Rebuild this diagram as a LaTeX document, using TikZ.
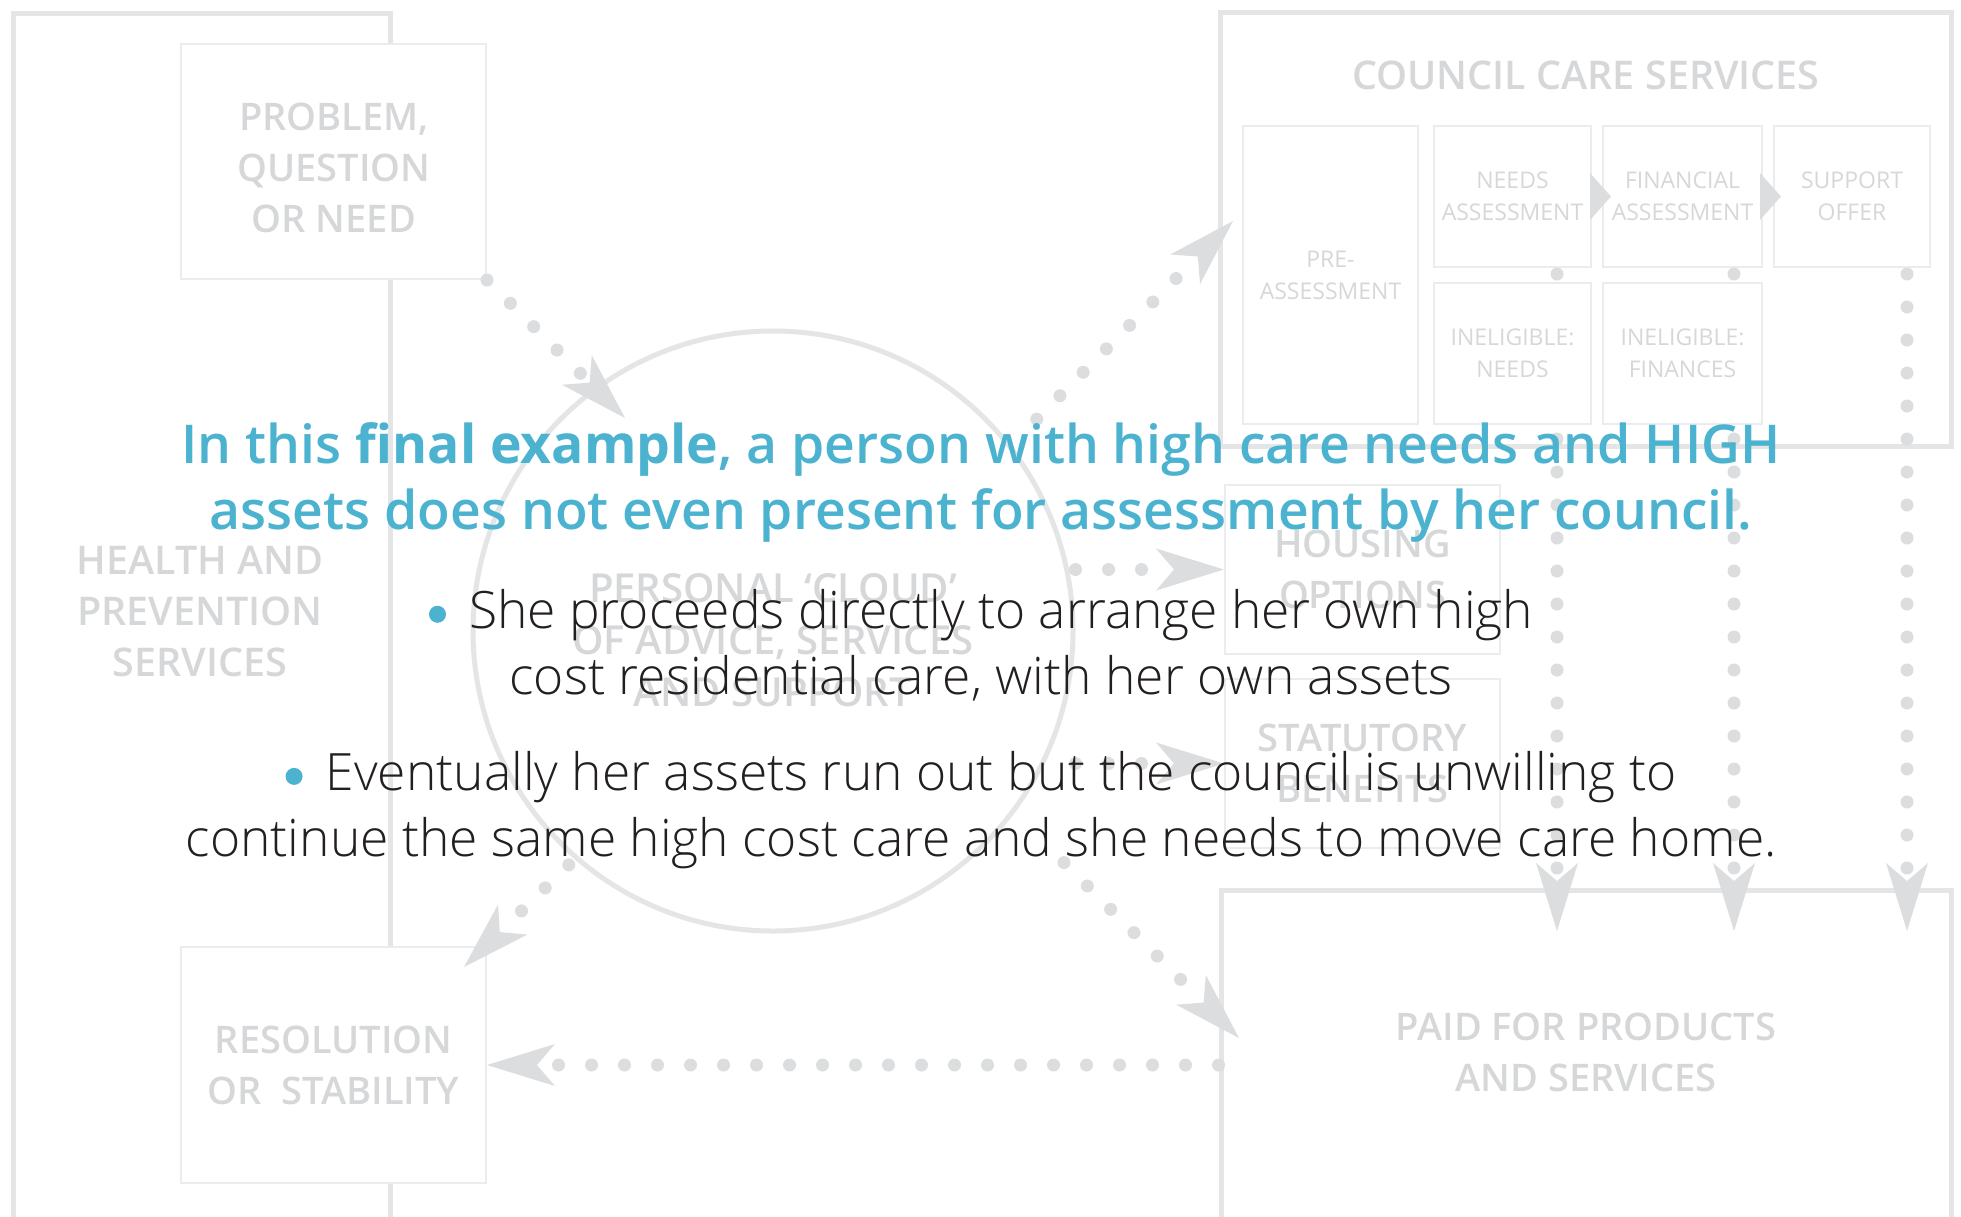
\documentclass[tikz,border=0pt]{standalone}
\usepackage{fontspec}
\usepackage{tikz}
\usetikzlibrary{arrows.meta}
\setmainfont{Open Sans}
\newfontfamily\lightfont{Open Sans Light}
\newfontfamily\semifont{Open Sans Semibold}[BoldFont={Open Sans Bold}]
\definecolor{frameGrey}{RGB}{228,229,230}
\definecolor{boxGrey}{RGB}{235,236,237}
\definecolor{labelGrey}{RGB}{214,215,217}
\definecolor{dotGrey}{RGB}{220,221,223}
\definecolor{titleBlue}{RGB}{75,178,207}
\definecolor{bodyInk}{RGB}{35,31,32}
\newcommand{\bulletdot}{\tikz[baseline=-14pt]\fill[titleBlue] (0,0) circle[radius=8.5pt];\hspace{0.45em}}

\begin{document}
\begin{tikzpicture}[x=1pt, y=-1pt,
    outline/.style={draw=frameGrey, line width=5pt},
    ghostbox/.style={draw=boxGrey, line width=2pt, fill=white, inner sep=0pt, align=center},
    biglabel/.style={text=labelGrey, align=center, font=\semifont\fontsize{38}{51}\selectfont},
    smalllabel/.style={text=labelGrey, font=\fontsize{23}{32}\selectfont},
    dotline/.style={draw=dotGrey, line width=13pt, line cap=round, dash pattern=on 0pt off 33pt},
    bigtip/.style={-{Stealth[length=68pt, width=42pt, inset=18pt, line width=0pt]}},
    steptip/.style={draw=dotGrey, line width=0pt, -{Triangle[length=21pt, width=47pt, line width=0pt]}},
    headline/.style={text=titleBlue, align=center, font=\semifont\fontsize{53.5}{66}\selectfont},
    bodytext/.style={text=bodyInk, align=center, font=\lightfont\fontsize{51.5}{66}\selectfont}]
    \fill[white] (0,0) rectangle (1961,1216);
    \useasboundingbox (0,0) rectangle (1961,1216);

    % LHS frame
    \draw[outline] (13,13) rectangle (390,1235);
    \node[biglabel, font=\semifont\fontsize{39.5}{51}\selectfont] (health) at (200,612) {HEALTH AND\\PREVENTION\\SERVICES};
    \node[ghostbox, minimum width=305pt, minimum height=235pt] (prob) at (333.5,161.5) {};
    \node[biglabel] (prob-label) at (334,168) {PROBLEM,\\QUESTION\\OR NEED};
    \node[ghostbox, biglabel, minimum width=305pt, minimum height=236pt] (resol) at (333.5,1065) {RESOLUTION\\OR\ \ STABILITY};

    % Cloud
    \node[circle, draw=frameGrey, line width=5pt, minimum size=600pt, inner sep=0pt] (cloud) at (773,631) {};
    \node[biglabel, font=\semifont\fontsize{40}{52}\selectfont] (cloud-label) at (773,640) {PERSONAL ‘CLOUD’\\OF ADVICE, SERVICES\\AND SUPPORT};

    % Council care services
    \node[outline, minimum width=731pt, minimum height=434pt, inner sep=0pt] (council) at (1585.5,229) {};
    \node[biglabel, font=\semifont\fontsize{39.5}{51}\selectfont] (council-title) at (1586,75) {COUNCIL CARE SERVICES};
    \node[ghostbox, smalllabel, minimum width=175pt, minimum height=298pt] (preassess) at (1330.5,275) {PRE-\\ASSESSMENT};
    \node[ghostbox, smalllabel, minimum width=157pt, minimum height=141pt] (needs) at (1512.5,196.5) {NEEDS\\ASSESSMENT};
    \node[ghostbox, smalllabel, minimum width=159pt, minimum height=141pt] (finance) at (1682.5,196.5) {FINANCIAL\\ASSESSMENT};
    \node[ghostbox, smalllabel, minimum width=156pt, minimum height=141pt] (support) at (1852,196.5) {SUPPORT\\OFFER};

    % Paid for
    \node[outline, minimum width=730pt, minimum height=350pt, inner sep=0pt] (paid) at (1586,1065) {};
    \node[biglabel] (paid-label) at (1586,1052) {PAID FOR PRODUCTS\\AND SERVICES};

    % Columns down to paid for
    \coordinate (col-1) at (1557,931);
    \coordinate (col-2) at (1734,931);
    \coordinate (col-3) at (1907,931);
    \draw[dotline, bigtip, shorten <=6pt] (needs.south -| col-1) -- (col-1);
    \draw[dotline, bigtip, shorten <=6pt] (finance.south -| col-2) -- (col-2);
    \draw[dotline, bigtip, shorten <=6pt] (support.south -| col-3) -- (col-3);
    \node[ghostbox, smalllabel, minimum width=157pt, minimum height=141pt] (inel-needs) at (1512.5,353.5) {INELIGIBLE:\\NEEDS};
    \node[ghostbox, smalllabel, minimum width=159pt, minimum height=141pt] (inel-fin) at (1682.5,353.5) {INELIGIBLE:\\FINANCES};
    \draw[steptip, shorten >=-9pt] (needs.east) -- (finance.west);
    \draw[steptip, shorten >=-8pt] (finance.east) -- (support.west);

    % Housing and benefits
    \node[ghostbox, biglabel, minimum width=275pt, minimum height=169pt] (housing) at (1362.5,569.5) {HOUSING\\OPTIONS};
    \node[ghostbox, biglabel, minimum width=275pt, minimum height=169pt] (statutory) at (1362.5,763.5) {STATUTORY\\BENEFITS};

    % Flows round the cloud
    \coordinate (cloud-in) at (625,418);
    \coordinate (council-in) at (1233,221);
    \coordinate (paid-in) at (1239,1038);
    \coordinate (resol-in) at (464,967);
    \draw[dotline, bigtip] (prob.south east) -- (cloud-in);
    \draw[dotline, bigtip, shorten <=36pt] (cloud.38) -- (council-in);
    \draw[dotline, bigtip] (cloud.east |- housing.west) -- (housing.west);
    \draw[dotline, bigtip] (cloud.east |- statutory.west) -- (statutory.west);
    \draw[dotline, bigtip, shorten <=70pt] (cloud.-37) -- (paid-in);
    \draw[dotline, bigtip, shorten <=8pt] (cloud.229) -- (resol-in);
    \draw[dotline, bigtip] (paid.west) -- (resol.east);

    % Overlay text
    \node[headline] (title) at (981,482) {In this {\bfseries final example}, a person with high care needs and HIGH\\assets does not even present for assessment by her council.};
    \node[bodytext] (point-1) at (981,645) {\bulletdot She proceeds directly to arrange her own high\\cost residential care, with her own assets};
    \node[bodytext] (point-2) at (981,810) {\bulletdot Eventually her assets run out but the council is unwilling to\\continue the same high cost care and she needs to move care home.};
\end{tikzpicture}
\end{document}
